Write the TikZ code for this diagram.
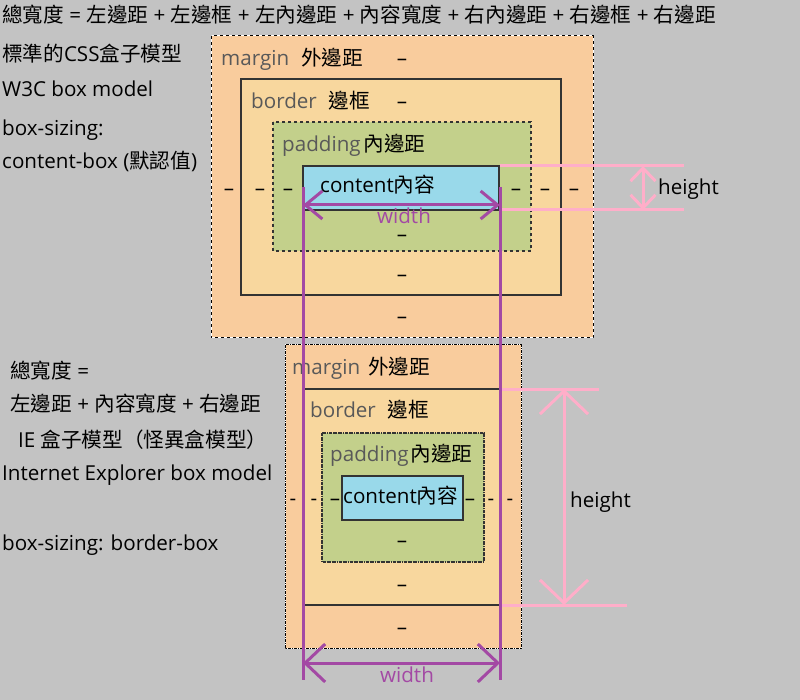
\documentclass[tikz,border=0pt]{standalone}
\usepackage{fontspec}
\setmainfont{Open Sans}
\newfontfamily\cjk{Noto Sans CJK TC}
\usetikzlibrary{arrows.meta}
\definecolor{bgc}{RGB}{195,195,195}
\definecolor{marginc}{RGB}{249,204,157}
\definecolor{borderc}{RGB}{248,215,158}
\definecolor{paddingc}{RGB}{195,208,139}
\definecolor{contentc}{RGB}{153,217,234}
\definecolor{dimc}{RGB}{163,73,164}
\definecolor{hgtc}{RGB}{255,174,201}
\newcommand{\zh}[1]{{\cjk #1}}
\newcommand{\tagtxt}[1]{\textcolor{black!65}{#1}}

\begin{document}
\begin{tikzpicture}[x=1pt, y=-1pt,
  every node/.style={inner sep=0pt, text height=15pt, text depth=4pt},
  txt/.style={anchor=west},
  dashmark/.style={anchor=center, text height=8pt, text depth=0pt},
  marginbox/.style={fill=marginc, draw=white, line width=1pt, postaction={draw=black, dashed, line width=1pt}},
  marginboxie/.style={fill=marginc, draw=white, line width=1pt, postaction={draw=black, densely dashdotted, line width=1pt}},
  borderbox/.style={fill=borderc, draw=black!80, line width=1.5pt},
  paddingbox/.style={fill=paddingc, draw=black!80, dashed, line width=1.2pt},
  paddingboxie/.style={fill=paddingc, draw=black!80, densely dashdotted, line width=1.2pt},
  contentbox/.style={fill=contentc, draw=black!80, line width=1.5pt},
  dimline/.style={draw=dimc, line width=3pt},
  hgtline/.style={draw=hgtc, line width=3pt}]
\fontsize{20.6pt}{24pt}\selectfont
\path[fill=bgc] (0,0) rectangle (800,700); % background

% left texts
\node[txt] (total) at (2,17) {\zh{總寬度} = \zh{左邊距} + \zh{左邊框} + \zh{左內邊距} + \zh{內容寬度} + \zh{右內邊距} + \zh{右邊框} + \zh{右邊距}};
\node[txt] (stdtitle) at (2,56) {\zh{標準的}CSS\zh{盒子模型}};
\node[txt] (stdname) at (2,91) {W3C box model};
\node[txt] (stdsz) at (2,130) {box-sizing:};
\node[txt] (stdval) at (2,163) {content-box (\zh{默認值})};
\node[txt] (ietotal) at (10,373) {\zh{總寬度} =};
\node[txt] (iesum) at (10,406) {\zh{左邊距} + \zh{內容寬度} + \zh{右邊距}};
\node[txt] (ietitle) at (18,442) {IE \zh{盒子模型（怪異盒模型）}};
\node[txt] (iename) at (2,475) {Internet Explorer box model};
\node[txt] (iesz) at (2,545) {box-sizing: border-box};

% standard box model
\draw[marginbox] (211,36) rectangle (593,338);
\draw[borderbox] (241,79) rectangle (561,295);
\draw[paddingbox] (273,122) rectangle (531,251);
\draw[contentbox] (303,166) rectangle (499,210);
\node[txt] (smargin) at (221,60) {\tagtxt{margin}\hspace{12pt}\zh{外邊距}};
\node[txt] (sborder) at (251,103) {\tagtxt{border}\hspace{12pt}\zh{邊框}};
\node[txt] (spadding) at (282,146) {\tagtxt{padding}\hspace{3pt}\zh{內邊距}};
\node[txt] (scontent) at (320,187) {content\zh{內容}};
\node[dashmark] (sd1) at (402,61.5) {–};
\node[dashmark] (sd2) at (402,104.5) {–};
\node[dashmark] (sd3) at (229,191.5) {–};
\node[dashmark] (sd4) at (260,191.5) {–};
\node[dashmark] (sd5) at (288,191.5) {–};
\node[dashmark] (sd6) at (516,191.5) {–};
\node[dashmark] (sd7) at (545,191.5) {–};
\node[dashmark] (sd8) at (574,191.5) {–};
\node[dashmark] (sd9) at (402,238) {–};
\node[dashmark] (sd10) at (402,277.5) {–};
\node[dashmark] (sd11) at (402,319.5) {–};

% IE box model
\draw[marginboxie] (285,345) rectangle (521,648);
\draw[borderbox] (303,389) rectangle (500,605);
\draw[paddingboxie] (322,433) rectangle (484,562);
\draw[contentbox] (342,476) rectangle (463,520);
\node[txt] (imargin) at (292,369) {\tagtxt{margin}\hspace{8pt}\zh{外邊距}};
\node[txt] (iborder) at (310,412) {\tagtxt{border}\hspace{12pt}\zh{邊框}};
\node[txt] (ipadding) at (330,456) {\tagtxt{padding}\hspace{2pt}\zh{內邊距}};
\node[txt] (icontent) at (343,498) {content\zh{內容}};
\node[dashmark] (id1) at (293,501.5) {-};
\node[dashmark] (id2) at (314,501.5) {-};
\node[dashmark] (id3) at (335,501.5) {–};
\node[dashmark] (id4) at (470,501.5) {–};
\node[dashmark] (id5) at (491,501.5) {-};
\node[dashmark] (id6) at (510,501.5) {-};
\node[dashmark] (id7) at (402,543.5) {–};
\node[dashmark] (id8) at (402,587.5) {–};
\node[dashmark] (id9) at (402,630.5) {–};

% height marks
\coordinate (sh1) at (500,166); \coordinate (sh1e) at (684,166);
\coordinate (sh2) at (500,210); \coordinate (sh2e) at (684,210);
\coordinate (sha) at (643,166); \coordinate (shb) at (643,210);
\draw[hgtline] (sh1) -- (sh1e);
\draw[hgtline] (sh2) -- (sh2e);
\draw[hgtline, {Straight Barb[length=13pt,width=25pt]}-{Straight Barb[length=13pt,width=25pt]}] (sha) -- (shb);
\node[txt] (sheight) at (658,189) {height};
\coordinate (ih1) at (500,389); \coordinate (ih1e) at (599,389);
\coordinate (ih2) at (500,605); \coordinate (ih2e) at (627,605);
\coordinate (iha) at (564,389); \coordinate (ihb) at (564,605);
\draw[hgtline] (ih1) -- (ih1e);
\draw[hgtline] (ih2) -- (ih2e);
\draw[hgtline, {Straight Barb[length=23pt,width=48pt]}-{Straight Barb[length=23pt,width=48pt]}] (iha) -- (ihb);
\node[txt] (iheight) at (570,502) {height};

% width marks
\coordinate (wl) at (303,187); \coordinate (wlb) at (303,680);
\coordinate (wr) at (500,187); \coordinate (wrb) at (500,680);
\draw[dimline] (wl) -- (wlb);
\draw[dimline] (wr) -- (wrb);
\coordinate (swa) at (303,205); \coordinate (swb) at (500,205);
\draw[dimline, {Straight Barb[length=17pt,width=28pt]}-{Straight Barb[length=17pt,width=28pt]}] (swa) -- (swb);
\node[text=dimc] (swidth) at (404,218) {width};
\coordinate (iwa) at (303,663); \coordinate (iwb) at (500,663);
\draw[dimline, {Straight Barb[length=20pt,width=38pt]}-{Straight Barb[length=20pt,width=38pt]}] (iwa) -- (iwb);
\node[text=dimc] (iwidth) at (407,677) {width};
\end{tikzpicture}
\end{document}
